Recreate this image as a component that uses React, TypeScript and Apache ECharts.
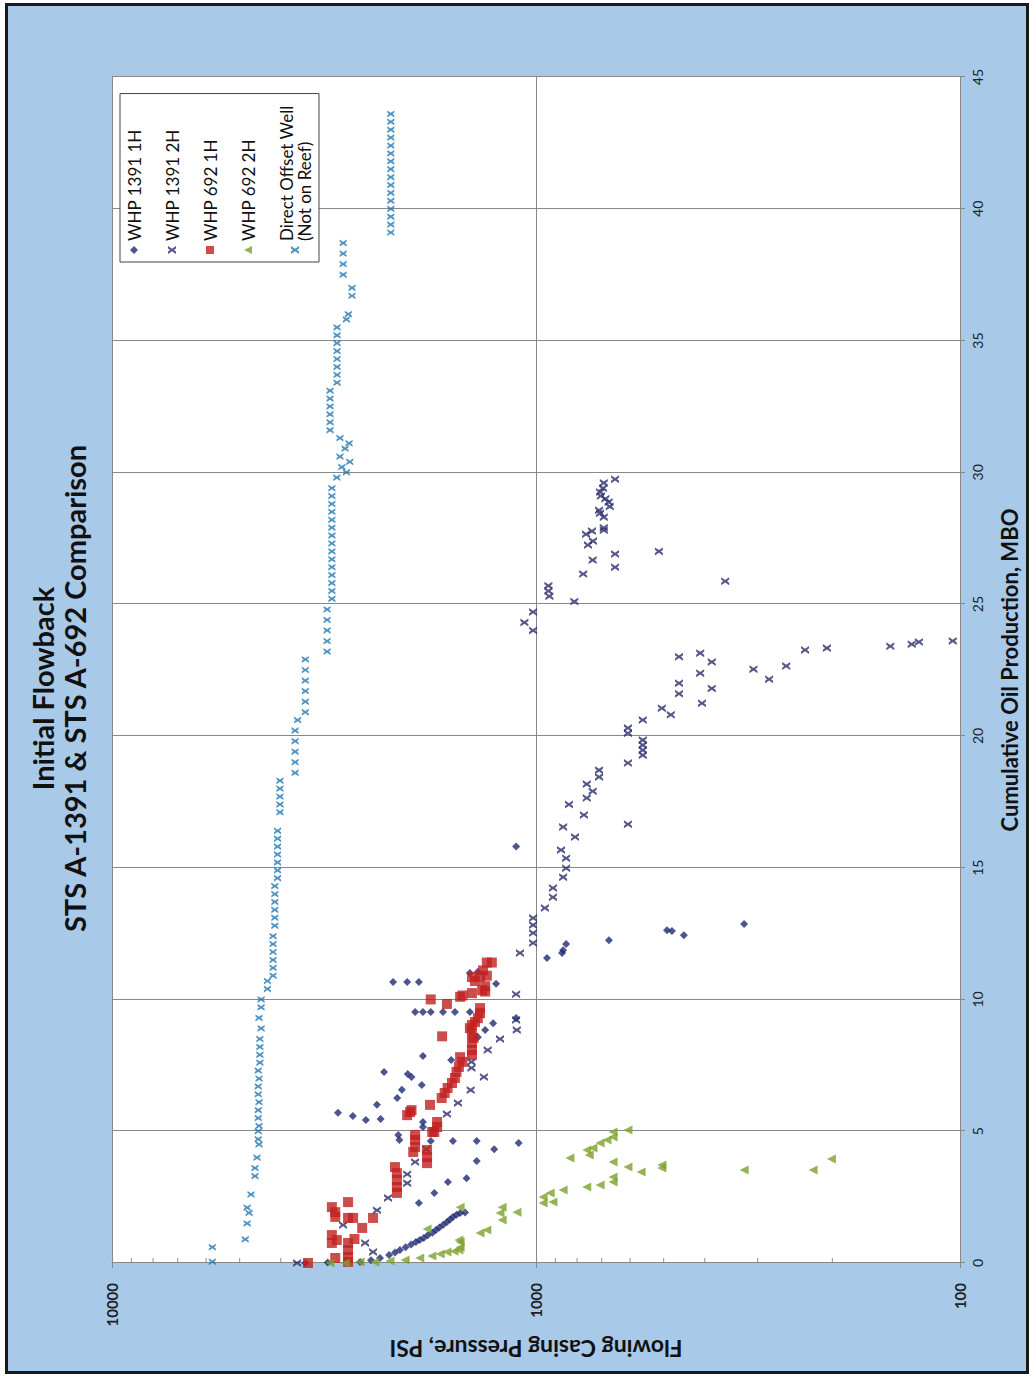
import React, { useEffect, useRef } from "react";
import * as echarts from "echarts";

// Data pairs: [cumulative oil production (MBO), flowing casing pressure (psi)]
const seriesNames = [
  "WHP 1391 1H",
  "WHP 1391 2H",
  "WHP 692 1H",
  "WHP 692 2H",
  "Direct Offset Well\n(Not on Reef)",
];

const whp1391_1H: number[][] = [
  [0, 3500], [0.02, 3100], [0.04, 2600], [0.1, 2450], [0.19, 2333], [0.3, 2220], [0.4, 2150], [0.49, 2094],
  [0.6, 2030], [0.7, 1970], [0.8, 1920], [0.87, 1880], [0.95, 1840], [1.05, 1800], [1.15, 1755], [1.25, 1722],
  [1.35, 1690], [1.45, 1655], [1.56, 1622], [1.65, 1595], [1.75, 1570], [1.83, 1540], [1.9, 1510], [1.92, 1470],
  [10.66, 2173], [10.66, 2013], [10.66, 1889], [11.0, 1432], [11.05, 1371], [10.6, 1242],
  [9.52, 1928], [9.52, 1848], [9.52, 1771], [9.52, 1657], [9.52, 1553], [9.52, 1432],
  [9.1, 1262], [8.84, 1318], [8.57, 1371], [9.3, 1114],
  [7.85, 1848], [7.7, 1585], [7.25, 2282], [7.17, 2007], [7.06, 1966], [6.75, 1860], [6.57, 2072], [6.26, 2125],
  [6.0, 2372], [5.46, 2325], [5.7, 2931], [5.58, 2704], [5.43, 2519], [5.35, 1848], [5.16, 1848], [4.86, 2113],
  [4.67, 2100], [4.63, 1771], [4.63, 1570], [4.63, 1380], [4.55, 1099], [4.32, 1255], [3.87, 1380], [3.22, 1458],
  [3.07, 1613], [2.66, 1737], [2.28, 1889],
  [12.86, 323], [12.63, 491], [12.6, 478], [12.44, 448], [12.25, 673], [12.1, 849], [11.87, 863], [11.76, 868],
  [11.57, 942], [15.8, 1114],
];

const whp1391_2H: number[][] = [
  [0, 3660], [1.44, 2851], [0.76, 2530], [0.42, 2423], [2.0, 2372], [2.47, 2234], [3.03, 2013], [3.37, 2013],
  [3.83, 1928], [4.32, 1815], [5.65, 1622], [6.07, 1528], [6.56, 1426], [7.06, 1327], [7.4, 1420], [7.63, 1420],
  [8.08, 1300], [8.5, 1216], [8.84, 1110], [9.22, 1114], [10.2, 1114], [11.76, 1091],
  [13.09, 1016], [12.82, 1016], [12.52, 1016], [12.14, 1016], [13.47, 953], [14.23, 912], [13.88, 912],
  [14.64, 863], [14.98, 849], [15.36, 849], [15.67, 873], [16.16, 809], [16.54, 863], [17.0, 771], [17.4, 836],
  [17.64, 759], [17.9, 735], [18.17, 759], [18.44, 710], [18.7, 710], [16.65, 607], [18.97, 607], [20.1, 607],
  [20.3, 607], [19.84, 560], [19.65, 560], [19.46, 560], [19.27, 560], [20.6, 560], [21.05, 505], [20.8, 481],
  [21.24, 406],
  [29.74, 651], [29.6, 692], [29.4, 695], [29.25, 706], [29.1, 703], [29.0, 686], [28.87, 674], [28.7, 670],
  [28.56, 710], [28.45, 706], [28.3, 692], [27.9, 692], [27.8, 692], [27.65, 762], [27.77, 738], [27.39, 734],
  [27.24, 754], [26.67, 735], [26.9, 651], [26.4, 651], [26.14, 774], [27.0, 513], [25.87, 358], [25.7, 935],
  [25.5, 935], [25.3, 930], [25.1, 812], [24.7, 1016], [24.3, 1065], [24.0, 1016], [23.0, 460], [22.0, 460],
  [21.6, 460], [23.14, 410], [22.38, 410], [22.8, 385], [21.8, 385], [22.53, 307], [22.15, 282], [22.65, 257],
  [23.26, 232], [23.33, 206], [23.4, 146], [23.48, 130], [23.56, 125], [23.6, 104],
];

const whp692_1H: number[][] = [
  [11.4, 1306], [11.4, 1271], [11.1, 1333], [10.9, 1306], [10.85, 1355], [10.7, 1393], [10.85, 1416],
  [10.5, 1318], [10.3, 1318], [10.35, 1340], [10.24, 1416], [10.1, 1510], [10.15, 1490], [9.83, 1622],
  [10.0, 1771], [8.6, 1665],
  [9.67, 1355], [9.48, 1355], [9.29, 1371], [9.14, 1393], [9.03, 1416], [8.91, 1432], [8.72, 1416],
  [8.54, 1404], [8.35, 1416], [8.08, 1416], [7.89, 1416],
  [7.81, 1510], [7.63, 1491], [7.44, 1520], [7.25, 1540], [7.02, 1553], [6.83, 1578], [6.64, 1616],
  [6.45, 1642], [6.26, 1669],
  [6.0, 1778], [5.73, 1981], [5.61, 2013], [5.8, 1966], [5.35, 1711], [5.16, 1711], [4.97, 1737], [4.97, 1757],
  [4.86, 1928], [4.67, 1928], [4.4, 1928], [4.21, 1948], [4.29, 1807], [4.02, 1807], [3.79, 1807],
  [3.64, 2151], [3.41, 2128], [3.15, 2128], [2.88, 2128], [2.66, 2128],
  [2.31, 2775], [2.12, 3030], [1.93, 2975], [1.75, 2975], [1.71, 2775], [1.71, 2700], [1.71, 2423],
  [1.33, 2570], [1.06, 3030], [0.76, 3030], [0.87, 2950], [0.76, 2775], [0.49, 2775], [0.23, 2775],
  [0.91, 2680], [0, 3450], [0.19, 2975], [0.04, 2775],
];

const whp692_2H: number[][] = [
  [0, 3062], [0, 2820], [0.04, 2600], [0.04, 2400], [0.08, 2210], [0.11, 2036], [0.19, 1880], [0.27, 1760],
  [0.34, 1682], [0.42, 1622], [0.45, 1560],
  [2.12, 1510], [0.8, 1510], [0.6, 1510], [0.49, 1520], [1.29, 1807], [0.87, 1520], [1.14, 1355],
  [1.25, 1306], [2.12, 1202], [1.9, 1216], [1.63, 1202], [1.93, 1109], [2.5, 962], [2.66, 926], [2.31, 912],
  [2.28, 962], [2.77, 863], [3.98, 832], [2.88, 759], [2.96, 706], [3.07, 658], [3.26, 658], [4.29, 759],
  [4.1, 749], [4.36, 734], [4.55, 706], [4.67, 680], [4.78, 658], [4.97, 658], [5.05, 607], [3.83, 658],
  [3.64, 607], [3.45, 565], [3.72, 505], [3.6, 505], [3.53, 323], [3.53, 222], [3.95, 201],
];

const offsetWell: number[][] = [
  [0.05, 5800], [0.6, 5800], [0.9, 4850], [1.5, 4800], [1.9, 4750], [2.1, 4800], [2.6, 4700],
  [3.3, 4600], [3.6, 4600], [4.0, 4550], [4.5, 4500], [4.7, 4520], [5.0, 4520], [5.2, 4500], [5.5, 4520],
  [5.8, 4520], [6.1, 4500], [6.4, 4520], [6.7, 4520], [7.0, 4500], [7.3, 4520], [7.6, 4480], [7.9, 4480],
  [8.2, 4480], [8.5, 4480], [8.9, 4450], [9.3, 4500], [9.7, 4450], [10.0, 4450], [10.4, 4300], [10.7, 4300],
  [10.9, 4170], [11.2, 4170], [11.5, 4170], [11.8, 4170], [12.1, 4170], [12.4, 4170], [12.8, 4130],
  [13.1, 4130], [13.4, 4130], [13.7, 4130], [14.0, 4130], [14.3, 4130], [14.6, 4070], [14.9, 4070],
  [15.2, 4070], [15.5, 4070], [15.8, 4070], [16.1, 4070], [16.4, 4070], [17.1, 4017], [17.4, 4017],
  [17.7, 4017], [18.0, 4017], [18.3, 4017], [18.6, 3700], [19.0, 3700], [19.4, 3700], [19.8, 3700],
  [20.2, 3700], [20.6, 3650], [20.9, 3500], [21.3, 3500], [21.7, 3500], [22.1, 3500], [22.5, 3500],
  [22.9, 3500], [23.2, 3110], [23.6, 3110], [24.0, 3110], [24.4, 3110], [24.8, 3110], [25.2, 3030],
  [25.5, 3030], [25.8, 3030], [26.1, 3030], [26.4, 3030], [26.7, 3030], [27.0, 3030], [27.3, 3030],
  [27.6, 3030], [27.9, 3030], [28.2, 3030], [28.5, 3030], [28.8, 3030], [29.1, 3030], [29.4, 3030],
  [29.8, 2950], [30.0, 2800], [30.2, 2870], [30.4, 2750], [30.6, 2900], [30.9, 2820], [31.1, 2760],
  [31.3, 2900], [31.6, 3060], [31.9, 3060], [32.2, 3060], [32.5, 3060], [32.8, 3060], [33.1, 3060],
  [33.4, 2946], [33.7, 2946], [34.0, 2946], [34.3, 2946], [34.6, 2946], [34.9, 2946], [35.2, 2946],
  [35.5, 2946], [35.8, 2800], [36.0, 2770], [36.7, 2716], [37.0, 2716], [37.5, 2850], [37.9, 2850],
  [38.3, 2850], [38.7, 2850], [39.1, 2200], [39.4, 2200], [39.7, 2200], [40.0, 2200], [40.3, 2200],
  [40.6, 2200], [40.9, 2200], [41.2, 2200], [41.5, 2200], [41.8, 2200], [42.1, 2200], [42.4, 2200],
  [42.7, 2200], [43.0, 2200], [43.3, 2200], [43.6, 2200],
];

const minorTickPsi = [200, 300, 400, 500, 600, 700, 800, 900, 2000, 3000, 4000, 5000, 6000, 7000, 8000, 9000];

const X_PATH = "path://M0,0L3,0L5,2.6L7,0L10,0L6.6,5L10,10L7,10L5,7.4L3,10L0,10L3.4,5Z";
const FONT = "Lato, 'Open Sans', sans-serif";

function Chart() {
  const ref = useRef<HTMLDivElement | null>(null);
  useEffect(() => {
    if (!ref.current) return;
    const chart = echarts.init(ref.current, undefined, { renderer: "svg" });
    const mk = (name: string, data: number[][], symbol: string, size: number, color: string) => ({
      name,
      type: "scatter",
      data,
      symbol,
      symbolSize: size,
      itemStyle: { color },
      emphasis: { disabled: true },
    });
    chart.setOption({
      animation: false,
      backgroundColor: "transparent",
      title: [
        {
          text: "Initial Flowback",
          left: "center",
          top: 23,
          textStyle: { fontFamily: FONT, fontSize: 29, fontWeight: "bold", color: "#111" },
        },
        {
          text: "STS A-1391 & STS A-692 Comparison",
          left: "center",
          top: 55,
          textStyle: { fontFamily: FONT, fontSize: 29, fontWeight: "bold", color: "#111" },
        },
      ],
      legend: {
        data: seriesNames,
        orient: "vertical",
        left: 1115,
        top: 120,
        padding: [5, 12, 6, 8],
        itemGap: 20,
        itemWidth: 8,
        itemHeight: 8,
        backgroundColor: "#fff",
        borderColor: "#444",
        borderWidth: 1,
        textStyle: { fontFamily: FONT, fontSize: 17, color: "#111", lineHeight: 18 },
      },
      grid: {
        left: 114,
        right: 77,
        top: 112,
        bottom: 73,
        show: true,
        backgroundColor: "#fff",
        borderWidth: 0,
      },
      xAxis: {
        type: "value",
        min: 0,
        max: 45,
        interval: 5,
        name: "Cumulative Oil Production, MBO",
        nameLocation: "middle",
        nameGap: 38,
        nameTextStyle: { fontFamily: FONT, fontSize: 22, fontWeight: "bold", color: "#111" },
        axisLine: { show: true, lineStyle: { color: "#888", width: 1 } },
        axisTick: { show: true, length: 5, lineStyle: { color: "#888" } },
        axisLabel: { fontFamily: FONT, fontSize: 14, color: "#222", margin: 10 },
        splitLine: { show: true, lineStyle: { color: "#888", width: 1 } },
      },
      yAxis: {
        type: "log",
        logBase: 10,
        min: 100,
        max: 10000,
        name: "Flowing Casing Pressure, PSI",
        nameLocation: "middle",
        nameGap: 70,
        nameTextStyle: { fontFamily: FONT, fontSize: 23, fontWeight: "bold", color: "#111" },
        axisLine: { show: true, lineStyle: { color: "#888", width: 1 } },
        axisTick: { show: true, length: 5, lineStyle: { color: "#888" } },
        axisLabel: {
          fontFamily: FONT,
          fontSize: 15,
          fontWeight: "bold",
          color: "#222",
          margin: 20,
          formatter: (v: number) => String(Math.round(v)),
        },
        splitLine: { show: true, lineStyle: { color: "#888", width: 1 } },
      },
      series: [
        mk(seriesNames[0], whp1391_1H, "diamond", 8, "#1f2a70"),
        mk(seriesNames[1], whp1391_2H, X_PATH, 8, "#2b2d6b"),
        mk(seriesNames[2], whp692_1H, "rect", 10, "#c0211f"),
        mk(seriesNames[3], whp692_2H, "triangle", 9, "#7da12a"),
        mk(seriesNames[4], offsetWell, X_PATH, 7, "#2378b3"),
        {
          name: "minorTicks",
          type: "scatter",
          data: minorTickPsi.map((v) => [0, v]),
          symbol: "rect",
          symbolSize: [5, 1],
          symbolOffset: [2.5, 0],
          itemStyle: { color: "#777" },
          silent: true,
          clip: false,
          z: 1,
        },
      ],
    });
    return () => chart.dispose();
  }, []);
  return (
    <div
      ref={ref}
      style={{
        position: "absolute",
        left: 0,
        top: 0,
        width: 1377,
        height: 1033,
        transformOrigin: "0 0",
        transform: "translateY(1377px) rotate(-90deg)",
      }}
    />
  );
}

export default function App() {
  return (
    <div style={{ position: "absolute", left: 0, top: 0, width: 1033, height: 1377, background: "#fff", overflow: "hidden" }}>
      <div
        style={{
          position: "absolute",
          left: 5,
          top: 3,
          width: 1024,
          height: 1371,
          boxSizing: "border-box",
          border: "3px solid #1a1a1a",
          background: "#a9c9e9",
        }}
      />
      <Chart />
    </div>
  );
}
